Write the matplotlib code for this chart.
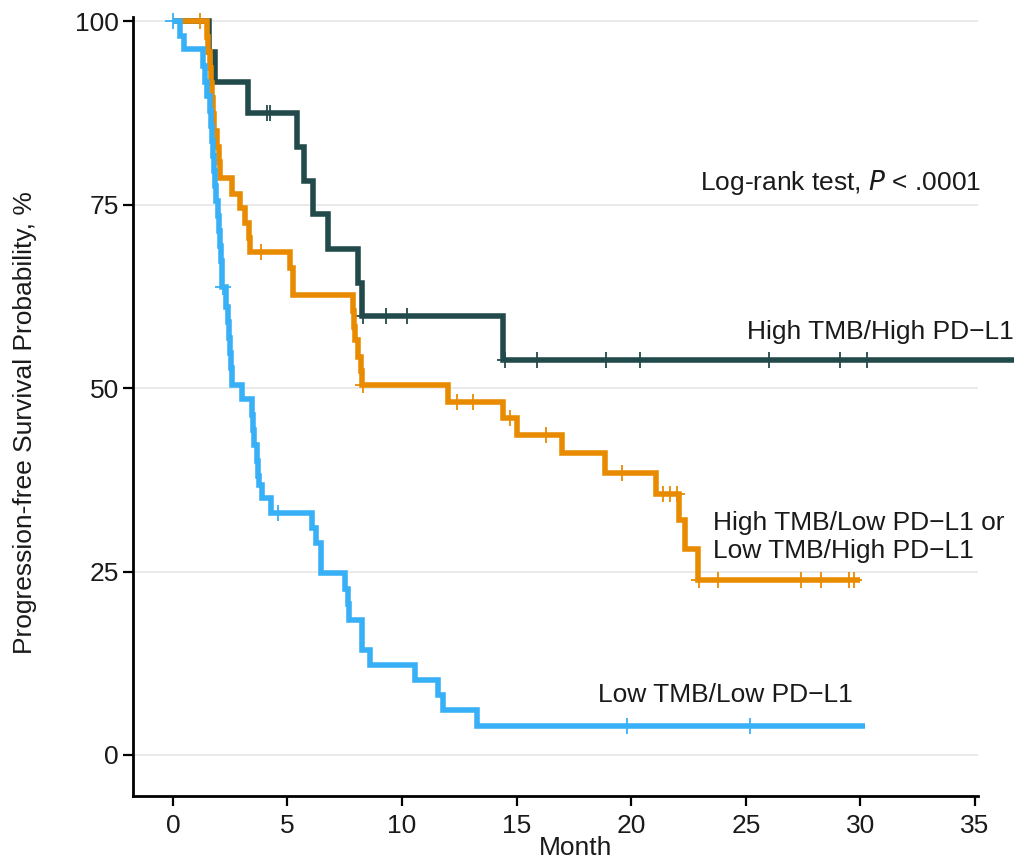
import numpy as np
import matplotlib
matplotlib.use("Agg")
import matplotlib.pyplot as plt

plt.rcParams['font.family'] = ['Liberation Sans', 'DejaVu Sans']

# ---- data ----
# High TMB / High PD-L1
hh_time = [0, 1.57, 1.83, 3.27, 5.4, 5.7, 6.1, 6.77, 8.07, 8.25, 14.4, 36.7]
hh_surv = [100, 95.8, 91.7, 87.5, 82.9, 78.2, 73.8, 69.0, 64.3, 59.8, 53.8, 53.8]
hh_cens = [4.1, 4.23, 8.3, 9.3, 10.2, 14.5, 15.9, 18.9, 20.4, 26.0, 29.1, 30.3]

# High TMB / Low PD-L1 or Low TMB / High PD-L1
mx_time = [0, 1.5, 1.55, 1.6, 1.65, 1.7, 1.75, 1.8, 1.93, 2.0, 2.05, 2.57, 2.92,
           3.14, 3.3, 3.36, 5.1, 5.25, 7.86, 7.9, 7.95, 8.07, 8.2, 8.25,
           12.0, 14.4, 15.0, 17.0, 18.85, 21.1, 22.1, 22.35, 22.9, 30.0]
mx_surv = [100, 97.9, 95.8, 93.7, 91.6, 89.5, 87.4, 85.0, 82.9, 80.8, 78.6, 76.5, 74.6,
           72.5, 70.5, 68.5, 66.4, 62.7, 60.5, 58.4, 56.5, 54.2, 52.3, 50.4,
           48.1, 46.0, 43.6, 41.1, 38.4, 35.6, 32.0, 28.1, 23.8, 23.8]
mx_cens = [1.2, 3.84, 8.3, 12.4, 13.1, 14.7, 16.3, 19.6, 21.4, 21.7, 22.0,
           22.95, 23.8, 27.4, 28.3, 29.5, 29.7]

# Low TMB / Low PD-L1
ll_time = [0, 0.3, 0.5, 1.3, 1.4, 1.5, 1.6, 1.65, 1.7, 1.75, 1.8, 1.85, 1.9, 1.95,
           2.0, 2.05, 2.1, 2.15, 2.3, 2.4, 2.45, 2.5, 2.55, 2.6, 3.0, 3.45, 3.5,
           3.55, 3.65, 3.7, 3.75, 3.9, 4.3, 6.05, 6.25, 6.45, 7.5, 7.65, 7.7,
           8.25, 8.6, 10.56, 11.57, 11.8, 13.27, 30.2]
ll_surv = [100, 98.0, 96.2, 93.9, 91.8, 89.8, 87.8, 85.7, 83.7, 81.6, 79.6, 77.6, 75.5, 73.5,
           71.4, 69.4, 67.3, 63.8, 61.1, 59.0, 56.9, 54.8, 52.7, 50.5, 48.5, 46.4, 44.3,
           42.2, 40.1, 38.0, 36.8, 35.0, 33.0, 30.9, 28.9, 24.8, 22.6, 20.6, 18.4,
           14.3, 12.3, 10.2, 8.2, 6.1, 4.0, 4.0]
ll_cens = [0.0, 2.2, 4.6, 19.8, 25.2]

x_ticks = [0, 5, 10, 15, 20, 25, 30, 35]
y_ticks = [0, 25, 50, 75, 100]

c_hh = "#234a4b"
c_mx = "#e98b00"
c_ll = "#38b0f7"

FS = 19

fig = plt.figure(figsize=(10.26, 8.63), dpi=100)
ax = fig.add_axes([0.1301, 0.0776, 0.8231, 0.9027])

for y in y_ticks:
    ax.axhline(y, color="#e6e6e6", lw=1.2, zorder=0)


def km(ax, t, s, cens, color, z):
    ax.step(t, s, where='post', color=color, lw=4.0, zorder=z, clip_on=False,
            solid_joinstyle='miter', solid_capstyle='butt')
    t_arr = np.array(t)
    s_arr = np.array(s)
    idx = np.searchsorted(t_arr, np.array(cens), side='right') - 1
    ax.plot(cens, s_arr[idx], ls='none', marker='+', ms=11, mew=1.3,
            color=color, zorder=z, clip_on=False)


km(ax, hh_time, hh_surv, hh_cens, c_hh, 3)
km(ax, mx_time, mx_surv, mx_cens, c_mx, 4)
km(ax, ll_time, ll_surv, ll_cens, c_ll, 5)

ax.set_xlim(-1.72, 35.13)
ax.set_ylim(-5.6, 100.6)
ax.set_xticks(x_ticks)
ax.set_yticks(y_ticks)
ax.tick_params(axis='both', length=7, width=1.6, labelsize=FS, color='black',
               labelcolor='#1a1a1a')
ax.tick_params(axis='x', pad=6)
for side in ['top', 'right']:
    ax.spines[side].set_visible(False)
for side in ['left', 'bottom']:
    ax.spines[side].set_linewidth(2.0)

ax.set_xlabel("Month", fontsize=FS, color='#1a1a1a')
ax.set_ylabel("Progression-free Survival Probability, %", fontsize=FS,
              color='#1a1a1a')
ax.xaxis.set_label_coords(0.524, -0.0515)
ax.yaxis.set_label_coords(-0.114, 0.48)

ax.text(23.0, 78.1, r"Log-rank test, $\it{P}$ < .0001", fontsize=FS,
        ha='left', va='center', color='#1a1a1a')
ax.text(25.05, 57.6, "High TMB/High PD\u2212L1", fontsize=FS, ha='left',
        va='center', color='#1a1a1a')
ax.text(23.57, 29.7, "High TMB/Low PD\u2212L1 or\nLow TMB/High PD\u2212L1",
        fontsize=FS, ha='left', va='center', color='#1a1a1a', linespacing=1.2)
ax.text(18.55, 8.2, "Low TMB/Low PD\u2212L1", fontsize=FS, ha='left',
        va='center', color='#1a1a1a')

fig.savefig("out.png", dpi=100)
